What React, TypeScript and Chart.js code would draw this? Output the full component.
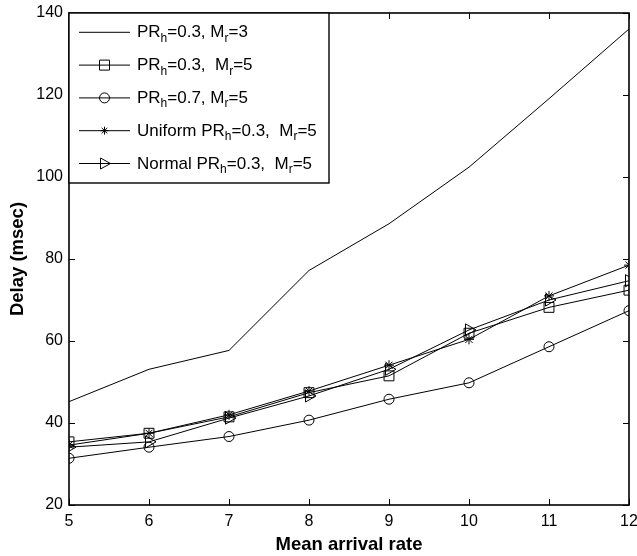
import React, { useEffect, useRef } from "react";
import { Chart, registerables } from "chart.js";

Chart.register(...registerables);

const xValues = [5, 6, 7, 8, 9, 10, 11, 12];
const prh03Mr3 = [45.2, 53.1, 57.7, 77.2, 88.6, 102.4, 119.1, 136.1];
const prh03Mr5 = [35.4, 37.5, 41.5, 47.4, 51.5, 61.9, 68.2, 72.4];
const prh07Mr5 = [31.4, 34.1, 36.7, 40.7, 45.8, 49.8, 58.6, 67.4];
const uniformPrh03Mr5 = [34.6, 37.5, 42.0, 47.8, 54.1, 60.4, 71.0, 78.5];
const normalPrh03Mr5 = [34.1, 35.4, 41.2, 46.6, 53.1, 62.7, 70.0, 74.7];

const seriesLabels = [
  "PR_h=0.3, M_r=3",
  "PR_h=0.3,  M_r=5",
  "PR_h=0.7, M_r=5",
  "Uniform PR_h=0.3,  M_r=5",
  "Normal PR_h=0.3,  M_r=5",
];
const markers = ["none", "rect", "circle", "star", "triangle"];
const xTitle = "Mean arrival rate";
const yTitle = "Delay (msec)";

const FONT = "'Liberation Sans', Arial, Helvetica, sans-serif";

function drawMarker(ctx: CanvasRenderingContext2D, style: string, x: number, y: number) {
  ctx.save();
  ctx.strokeStyle = "#000";
  ctx.lineWidth = 1;
  ctx.beginPath();
  if (style === "rect") {
    ctx.rect(x - 5, y - 5, 10, 10);
  } else if (style === "circle") {
    ctx.arc(x, y, 5, 0, Math.PI * 2);
  } else if (style === "star") {
    const r = 4;
    for (let k = 0; k < 4; k++) {
      const a = (k * Math.PI) / 4;
      ctx.moveTo(x - r * Math.cos(a), y - r * Math.sin(a));
      ctx.lineTo(x + r * Math.cos(a), y + r * Math.sin(a));
    }
  } else if (style === "triangle") {
    ctx.moveTo(x + 6, y);
    ctx.lineTo(x - 4, y - 5.5);
    ctx.lineTo(x - 4, y + 5.5);
    ctx.closePath();
  }
  if (style !== "none") ctx.stroke();
  ctx.restore();
}

function drawSubText(ctx: CanvasRenderingContext2D, text: string, x: number, y: number) {
  let cx = x;
  let i = 0;
  while (i < text.length) {
    if (text[i] === "_" && i + 1 < text.length) {
      ctx.font = `12px ${FONT}`;
      ctx.fillText(text[i + 1], cx, y + 4.5);
      cx += ctx.measureText(text[i + 1]).width;
      i += 2;
    } else {
      let j = i;
      while (j < text.length && text[j] !== "_") j++;
      const part = text.slice(i, j);
      ctx.font = `17px ${FONT}`;
      ctx.fillText(part, cx, y);
      cx += ctx.measureText(part).width;
      i = j;
    }
  }
}

const frameTicksPlugin = {
  id: "frameTicks",
  afterDatasetsDraw(chart: any) {
    const { ctx, chartArea: a, scales } = chart;
    ctx.save();
    ctx.strokeStyle = "#000";
    ctx.lineWidth = 1;
    const L = 6;
    ctx.beginPath();
    scales.x.ticks.forEach((t: any) => {
      const px = Math.round(scales.x.getPixelForValue(t.value)) + 0.5;
      ctx.moveTo(px, a.bottom);
      ctx.lineTo(px, a.bottom - L);
      ctx.moveTo(px, a.top);
      ctx.lineTo(px, a.top + L);
    });
    scales.y.ticks.forEach((t: any) => {
      const py = Math.round(scales.y.getPixelForValue(t.value)) + 0.5;
      ctx.moveTo(a.left, py);
      ctx.lineTo(a.left + L, py);
      ctx.moveTo(a.right, py);
      ctx.lineTo(a.right - L, py);
    });
    ctx.stroke();
    ctx.lineWidth = 1.6;
    ctx.strokeRect(a.left, a.top, a.right - a.left, a.bottom - a.top);
    ctx.restore();
  },
};

const legendPlugin = {
  id: "matlabLegend",
  afterDatasetsDraw(chart: any) {
    const { ctx, chartArea: a } = chart;
    const x0 = a.left;
    const y0 = a.top;
    const w = 260;
    const h = 170;
    ctx.save();
    ctx.fillStyle = "#fff";
    ctx.fillRect(x0, y0, w, h);
    ctx.strokeStyle = "#000";
    ctx.lineWidth = 1.4;
    ctx.strokeRect(x0, y0, w, h);
    seriesLabels.forEach((label, i) => {
      const cy = y0 + 19.3 + i * 32.8;
      ctx.strokeStyle = "#000";
      ctx.lineWidth = 1;
      ctx.beginPath();
      ctx.moveTo(x0 + 10, cy);
      ctx.lineTo(x0 + 61, cy);
      ctx.stroke();
      drawMarker(ctx, markers[i], x0 + 35.5, cy);
      ctx.fillStyle = "#000";
      ctx.textBaseline = "alphabetic";
      ctx.textAlign = "left";
      drawSubText(ctx, label, x0 + 68, cy + 5);
    });
    ctx.restore();
  },
};

export default function App() {
  const ref = useRef<HTMLCanvasElement | null>(null);
  useEffect(() => {
    document.body.style.margin = "0";
    const series = [prh03Mr3, prh03Mr5, prh07Mr5, uniformPrh03Mr5, normalPrh03Mr5];
    const datasets = series.map((vals, i) => {
      const m = markers[i];
      return {
        label: seriesLabels[i],
        data: vals.map((v, k) => ({ x: xValues[k], y: v })),
        borderColor: "#000",
        borderWidth: 1,
        backgroundColor: "rgba(0,0,0,0)",
        pointBackgroundColor: "rgba(0,0,0,0)",
        pointBorderColor: "#000",
        pointBorderWidth: 1,
        pointStyle: m === "none" ? "circle" : m,
        pointRadius: m === "none" ? 0 : m === "rect" ? 7 : m === "triangle" ? 7 : 5,
        pointRotation: m === "triangle" ? 90 : 0,
        tension: 0,
        fill: false,
      };
    });
    const chart = new Chart(ref.current as HTMLCanvasElement, {
      type: "line",
      data: { datasets: datasets as any },
      options: {
        animation: false,
        responsive: true,
        maintainAspectRatio: false,
        events: [],
        layout: { padding: { top: 13, right: 5, bottom: 0, left: 0 } },
        plugins: { legend: { display: false }, tooltip: { enabled: false } },
        scales: {
          x: {
            type: "linear",
            min: 5,
            max: 12,
            grid: { display: false, drawTicks: false },
            border: { display: false },
            ticks: {
              stepSize: 1,
              color: "#000",
              padding: 7,
              maxRotation: 0,
              font: { size: 16, family: FONT },
            },
            title: {
              display: true,
              text: xTitle,
              color: "#000",
              font: { size: 18.5, weight: "bold", family: FONT },
              padding: { top: 0, bottom: 0 },
            },
            afterFit: (s: any) => {
              s.height = 51;
              s.paddingLeft = 0;
              s.paddingRight = 0;
            },
          },
          y: {
            min: 20,
            max: 140,
            grid: { display: false, drawTicks: false },
            border: { display: false },
            ticks: {
              stepSize: 20,
              color: "#000",
              padding: 6,
              font: { size: 16, family: FONT },
            },
            title: {
              display: true,
              text: yTitle,
              color: "#000",
              font: { size: 18.5, weight: "bold", family: FONT },
              padding: { top: 7, bottom: 0 },
            },
            afterFit: (s: any) => {
              s.width = 69;
              s.paddingTop = 0;
              s.paddingBottom = 0;
            },
          },
        },
      },
      plugins: [frameTicksPlugin, legendPlugin],
    });
    return () => chart.destroy();
  }, []);
  return (
    <div style={{ position: "fixed", left: 0, top: 0, width: 637, height: 556, background: "#fff" }}>
      <canvas ref={ref} />
    </div>
  );
}
